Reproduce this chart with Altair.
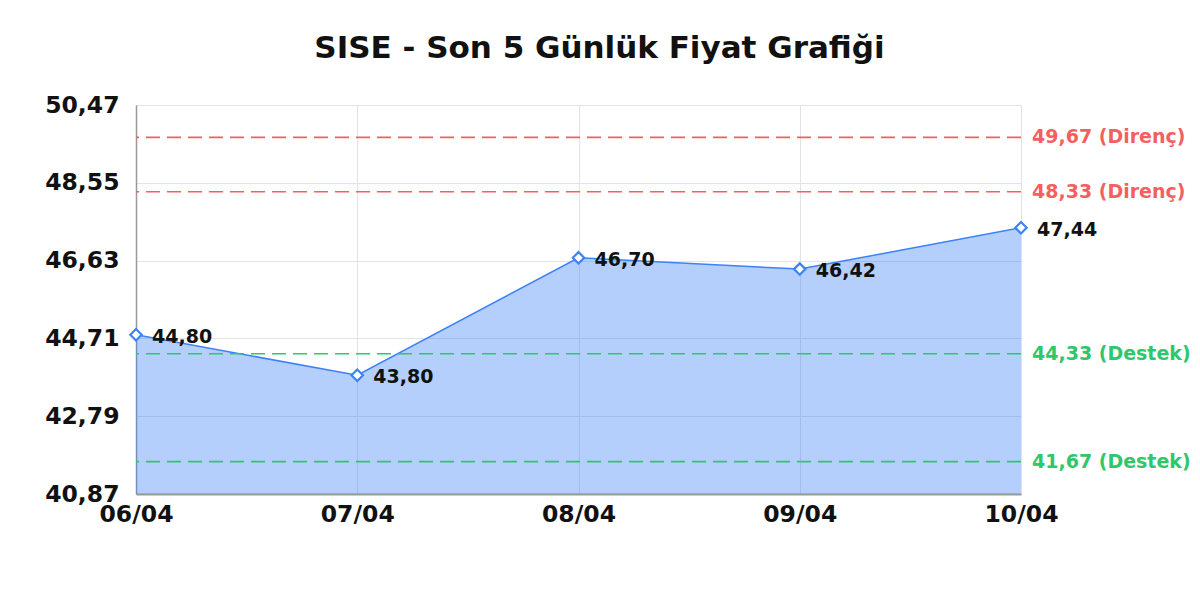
import pandas as pd
import altair as alt

# Veriler
dates = ["06/04", "07/04", "08/04", "09/04", "10/04"]
prices = [44.80, 43.80, 46.70, 46.42, 47.44]

level_values = [49.67, 48.33, 44.33, 41.67]
level_kinds = ["Direnç", "Direnç", "Destek", "Destek"]

y_ticks = [40.87, 42.79, 44.71, 46.63, 48.55, 50.47]

W, H = 885, 389
FONT = "DejaVu Sans"
BLUE = "#3b82f6"

df = pd.DataFrame({"Tarih": dates, "Fiyat": prices})
df["Etiket"] = df["Fiyat"].map(lambda v: f"{v:.2f}".replace(".", ","))

levels = pd.DataFrame({"Seviye": level_values, "Tür": level_kinds})
levels["Etiket"] = [f"{v:.2f}".replace(".", ",") + f" ({k})" for v, k in zip(level_values, level_kinds)]

x = alt.X("Tarih:O", sort=dates, title=None,
          scale=alt.Scale(type="point", padding=0),
          axis=alt.Axis(labelAngle=0, labelFont=FONT, labelFontSize=23.5, labelFontWeight="bold",
                        labelColor="#111", labelPadding=8, ticks=False, domainColor="#999",
                        domainWidth=2, grid=True, gridColor="#e3e3e3"))
y = alt.Y("Fiyat:Q", title=None,
          scale=alt.Scale(domain=[y_ticks[0], y_ticks[-1]], zero=False, nice=False),
          axis=alt.Axis(values=y_ticks, labelExpr="replace(format(datum.value, '.2f'), '.', ',')",
                        labelFont=FONT, labelFontSize=23.5, labelFontWeight="bold", labelColor="#111",
                        labelPadding=17, ticks=False, domainColor="#999", domainWidth=1.5,
                        gridColor="#e3e3e3", labelOverlap=False))

base = alt.Chart(df)

area = base.mark_area(color=BLUE, opacity=0.38).encode(x=x, y=y, y2=alt.datum(y_ticks[0]))
line = base.mark_line(color=BLUE, strokeWidth=1.5).encode(x=x, y=y)
points = base.mark_point(shape="diamond", filled=True, fill="white", stroke=BLUE,
                         strokeWidth=2.2, size=130, opacity=1).encode(x=x, y=y)
labels = base.mark_text(align="left", baseline="middle", dx=16, dy=2, font=FONT,
                        fontSize=19, fontWeight="bold", color="#111").encode(
    x=x, y=y, text="Etiket:N")

level_color = alt.Color("Tür:N", legend=None,
                        scale=alt.Scale(domain=["Direnç", "Destek"], range=["#f55f5f", "#2ec76a"]))
rules = alt.Chart(levels).mark_rule(strokeDash=[14, 7], strokeWidth=1.6).encode(
    y=alt.Y("Seviye:Q"), color=level_color)
rule_labels = alt.Chart(levels).mark_text(align="left", baseline="middle", font=FONT, fontSize=19,
                                          fontWeight="bold", dx=11).encode(
    x=alt.value(W), y=alt.Y("Seviye:Q"), text="Etiket:N", color=level_color)

chart = alt.layer(area, line, rules, points, labels, rule_labels).resolve_scale(
    color="shared").properties(
    width=W, height=H,
    title=alt.TitleParams("SISE - Son 5 Günlük Fiyat Grafiği", font=FONT, fontSize=31,
                          fontWeight="bold", color="#111", anchor="middle", dx=21, offset=28),
    autosize=alt.AutoSizeParams(type="none"),
    padding={"left": 128, "top": 97, "right": 170, "bottom": 90},
).configure_view(stroke=None)

chart.save("out.html", embed_options={"renderer": "svg", "actions": False})
